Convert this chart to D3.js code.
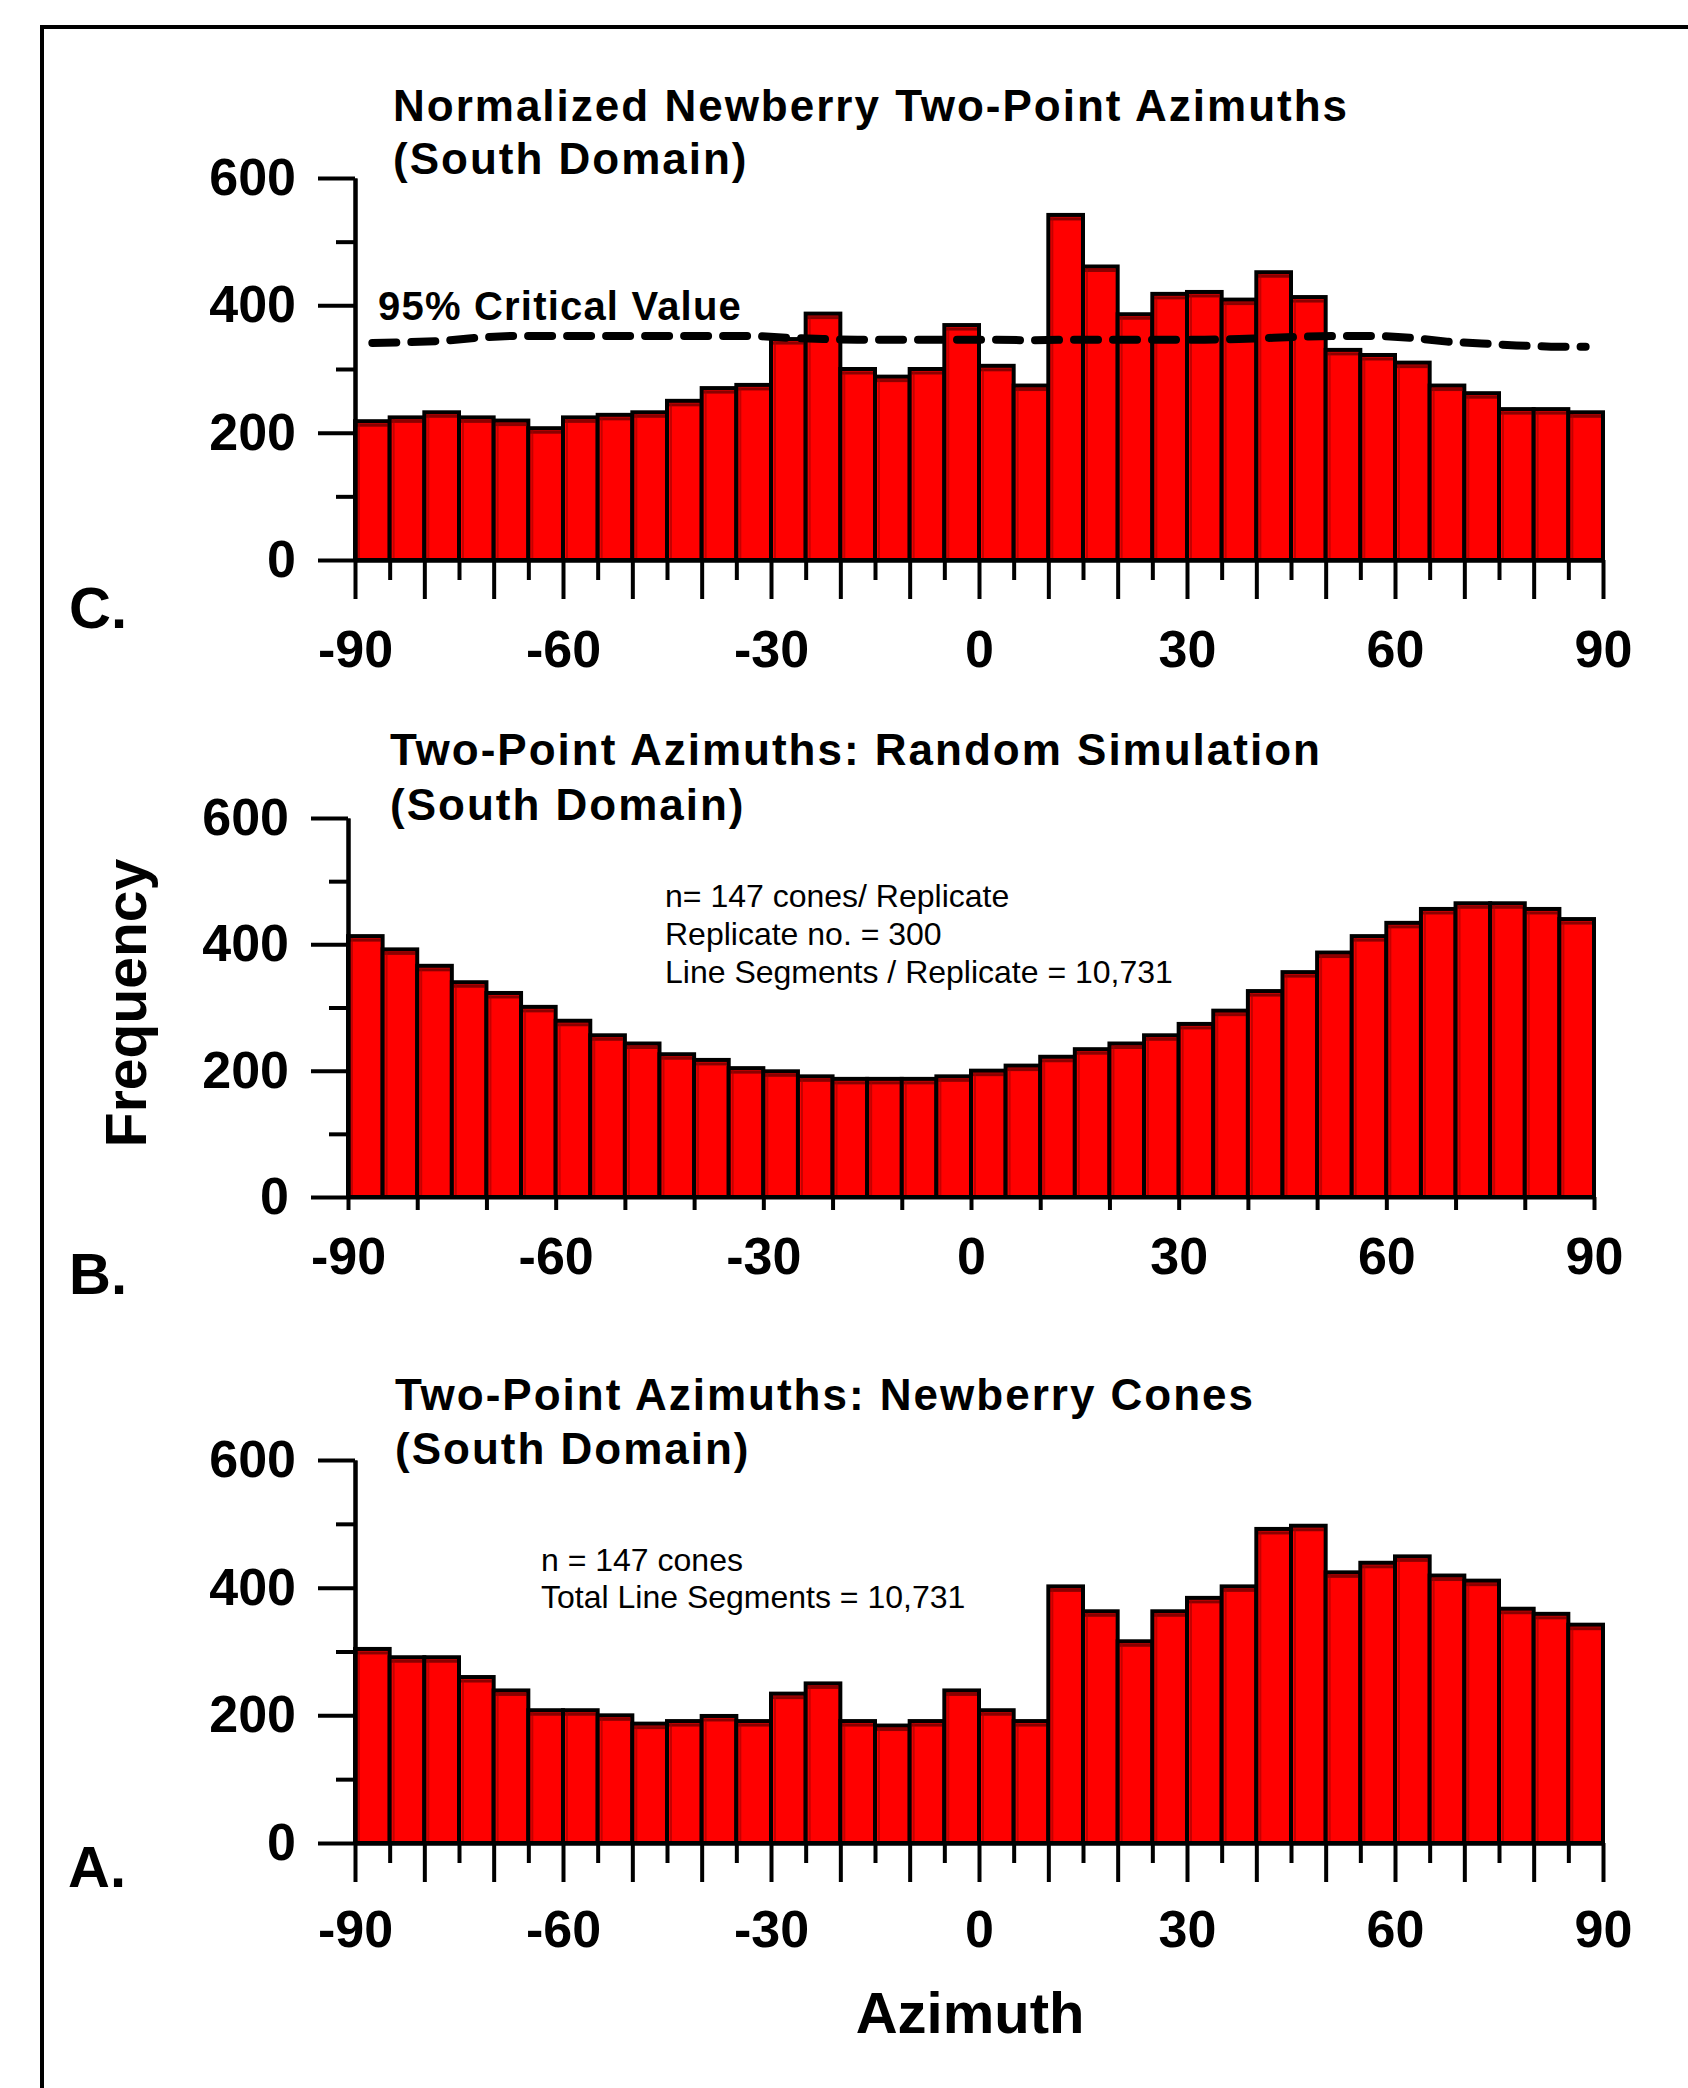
<!DOCTYPE html>
<html><head><meta charset="utf-8">
<script src="https://cdn.jsdelivr.net/npm/d3@7"></script>
<style>body{margin:0;background:#fff}svg{display:block}</style>
</head><body>
<script>
// Bin starts (5-degree azimuth bins)
const binStarts = [-90,-85,-80,-75,-70,-65,-60,-55,-50,-45,-40,-35,-30,-25,-20,-15,-10,-5,
                   0,5,10,15,20,25,30,35,40,45,50,55,60,65,70,75,80,85];
const binCenters = [-87.5,-82.5,-77.5,-72.5,-67.5,-62.5,-57.5,-52.5,-47.5,-42.5,-37.5,-32.5,-27.5,-22.5,-17.5,-12.5,-7.5,-2.5,
                    2.5,7.5,12.5,17.5,22.5,27.5,32.5,37.5,42.5,47.5,52.5,57.5,62.5,67.5,72.5,77.5,82.5,87.5];

// C. Normalized Newberry two-point azimuths
const normalizedC = [218,224,232,224,219,207,224,228,232,250,270,275,347,387,300,288,300,369,
                     305,274,542,461,386,418,421,409,452,413,330,322,310,274,262,237,237,232];
// C. 95% critical value (dashed line)
const criticalC = [341,342,344,349,352,352,352,352,352,352,352,352,349,347,346,346,346,346,
                   346,345,346,346,346,346,346,347,349,351,352,352,349,343,340,337,335,335];
// B. Random simulation
const randomB = [413,392,366,340,323,301,279,256,243,226,217,204,199,191,187,187,187,191,
                 200,208,222,234,243,256,274,295,326,356,387,413,434,456,465,465,456,440];
// A. Newberry cones
const observedA = [304,291,291,260,239,208,208,200,187,191,199,191,234,250,191,184,191,239,
                   208,191,402,363,316,363,384,402,492,497,424,439,449,419,411,367,359,342];

const xTickLabels = [-90,-60,-30,0,30,60,90];
const xMajorTicks = [-90,-80,-70,-60,-50,-40,-30,-20,-10,0,10,20,30,40,50,60,70,80,90];
const xMinorTicks = [-85,-75,-65,-55,-45,-35,-25,-15,-5,5,15,25,35,45,55,65,75,85];
const yTickLabels = [0,200,400,600];
const yMinorTicks = [100,300,500];

const titlesC = ["Normalized Newberry Two-Point Azimuths", "(South Domain)"];
const titlesB = ["Two-Point Azimuths: Random Simulation", "(South Domain)"];
const titlesA = ["Two-Point Azimuths: Newberry Cones", "(South Domain)"];
const notesB = ["n= 147 cones/ Replicate", "Replicate no. = 300", "Line Segments / Replicate = 10,731"];
const notesA = ["n = 147 cones", "Total Line Segments = 10,731"];

const W = 1688, H = 2088;
const FONT = "'Liberation Sans', Arial, Helvetica, sans-serif";
const fmt = d => String(d);   // plain hyphen-minus, as in the original
const svg = d3.select("body").append("svg").attr("width", W).attr("height", H)
  .style("font-family", FONT);

// frame
svg.append("line").attr("x1", 42).attr("x2", W).attr("y1", 27).attr("y2", 27)
  .attr("stroke", "#000").attr("stroke-width", 4);
svg.append("line").attr("x1", 42).attr("x2", 42).attr("y1", 25).attr("y2", H)
  .attr("stroke", "#000").attr("stroke-width", 4);

const panels = [
  {vals: normalizedC, crit: criticalC, x0:355, x1:1603, y0:560, y1:178, longTicks:true, labelBase:667,
   titles: titlesC, titleX:393, titleY:[121,174], letter:"C.", letterPos:[69,628]},
  {vals: randomB, x0:348, x1:1594, y0:1197, y1:818, longTicks:false, labelBase:1274,
   titles: titlesB, titleX:390, titleY:[765,820], letter:"B.", letterPos:[69,1294],
   notes: notesB, noteX:665, noteY:[907,945,983]},
  {vals: observedA, x0:355, x1:1603, y0:1843, y1:1460, longTicks:true, labelBase:1947,
   titles: titlesA, titleX:395, titleY:[1410,1464], letter:"A.", letterPos:[68,1887],
   notes: notesA, noteX:541, noteY:[1571,1608]}
];

panels.forEach(p => {
  const x = d3.scaleLinear().domain([-90, 90]).range([p.x0, p.x1]);
  const y = d3.scaleLinear().domain([0, 600]).range([p.y0, p.y1]);
  const g = svg.append("g");

  // bars
  const bars = g.append("g");
  binStarts.forEach((b, i) => {
    const bx = x(b), bw = x(b + 5) - x(b), by = y(p.vals[i]), bh = y(0) - y(p.vals[i]);
    bars.append("rect").attr("x", bx).attr("y", by).attr("width", bw).attr("height", bh)
      .attr("fill", "#ff0000");
    bars.append("line").attr("x1", bx + 2).attr("x2", bx + bw - 2)
      .attr("y1", by + 4).attr("y2", by + 4)
      .attr("stroke", "#8a0000").attr("stroke-width", 3);
    bars.append("line").attr("x1", bx + 4).attr("x2", bx + 4)
      .attr("y1", by + 2).attr("y2", y(0))
      .attr("stroke", "#a00000").attr("stroke-width", 2).attr("opacity", 0.6);
    bars.append("rect").attr("x", bx).attr("y", by).attr("width", bw).attr("height", bh)
      .attr("fill", "none").attr("stroke", "#000").attr("stroke-width", 4);
  });

  // critical value line
  if (p.crit) {
    const line = d3.line().x((d, i) => x(binCenters[i])).y(d => y(d));
    g.append("path").datum(p.crit).attr("d", line)
      .attr("fill", "none").attr("stroke", "#000").attr("stroke-width", 8)
      .attr("stroke-dasharray", "24 15").attr("stroke-linecap", "round");
    g.append("text").attr("x", 378).attr("y", 320)
      .attr("font-size", 40).attr("font-weight", "bold").attr("letter-spacing", 1.2)
      .text("95% Critical Value");
  }

  // y axis
  const yMaj = d3.axisLeft(y).tickValues(yTickLabels).tickSize(37).tickSizeOuter(0).tickPadding(22)
    .tickFormat(fmt);
  const ya = g.append("g").attr("transform", `translate(${p.x0},0)`).call(yMaj);
  const yMin = d3.axisLeft(y).tickValues(yMinorTicks).tickSize(19).tickSizeOuter(0).tickFormat("");
  const yb = g.append("g").attr("transform", `translate(${p.x0},0)`).call(yMin);
  [ya, yb].forEach(a => {
    a.selectAll("path,line").attr("stroke", "#000").attr("stroke-width", 4);
  });
  ya.selectAll("text").attr("font-size", 52).attr("font-weight", "bold")
    .attr("font-family", FONT).attr("fill", "#000");

  // x axis
  const xa = g.append("g").attr("transform", `translate(0,${p.y0})`);
  if (p.longTicks) {
    xa.append("g").call(d3.axisBottom(x).tickValues(xMajorTicks).tickSize(39).tickSizeOuter(0).tickFormat(""));
    xa.append("g").call(d3.axisBottom(x).tickValues(xMinorTicks).tickSize(20).tickSizeOuter(0).tickFormat(""));
  } else {
    xa.append("g").call(d3.axisBottom(x).tickValues(xMajorTicks).tickSize(13).tickSizeOuter(0).tickFormat(""));
  }
  const xl = xa.append("g").call(d3.axisBottom(x).tickValues(xTickLabels).tickSize(0).tickSizeOuter(0)
    .tickFormat(fmt));
  xl.select(".domain").remove();
  xl.selectAll("text").attr("y", p.labelBase - p.y0).attr("dy", null)
    .attr("font-size", 52).attr("font-weight", "bold").attr("font-family", FONT).attr("fill", "#000");
  xa.selectAll("path,line").attr("stroke", "#000").attr("stroke-width", 4);

  // titles
  p.titles.forEach((t, i) => {
    g.append("text").attr("x", p.titleX).attr("y", p.titleY[i])
      .attr("font-size", 44).attr("font-weight", "bold").attr("letter-spacing", 2)
      .text(t);
  });
  if (p.notes) {
    p.notes.forEach((t, i) => {
      g.append("text").attr("x", p.noteX).attr("y", p.noteY[i])
        .attr("font-size", 32).text(t);
    });
  }
  g.append("text").attr("x", p.letterPos[0]).attr("y", p.letterPos[1])
    .attr("font-size", 58).attr("font-weight", "bold").text(p.letter);
});

// axis titles
svg.append("text").attr("transform", "translate(146,1003) rotate(-90)")
  .attr("text-anchor", "middle").attr("font-size", 57).attr("font-weight", "bold").text("Frequency");
svg.append("text").attr("x", 970).attr("y", 2033)
  .attr("text-anchor", "middle").attr("font-size", 58).attr("font-weight", "bold").text("Azimuth");
</script>
</body></html>
